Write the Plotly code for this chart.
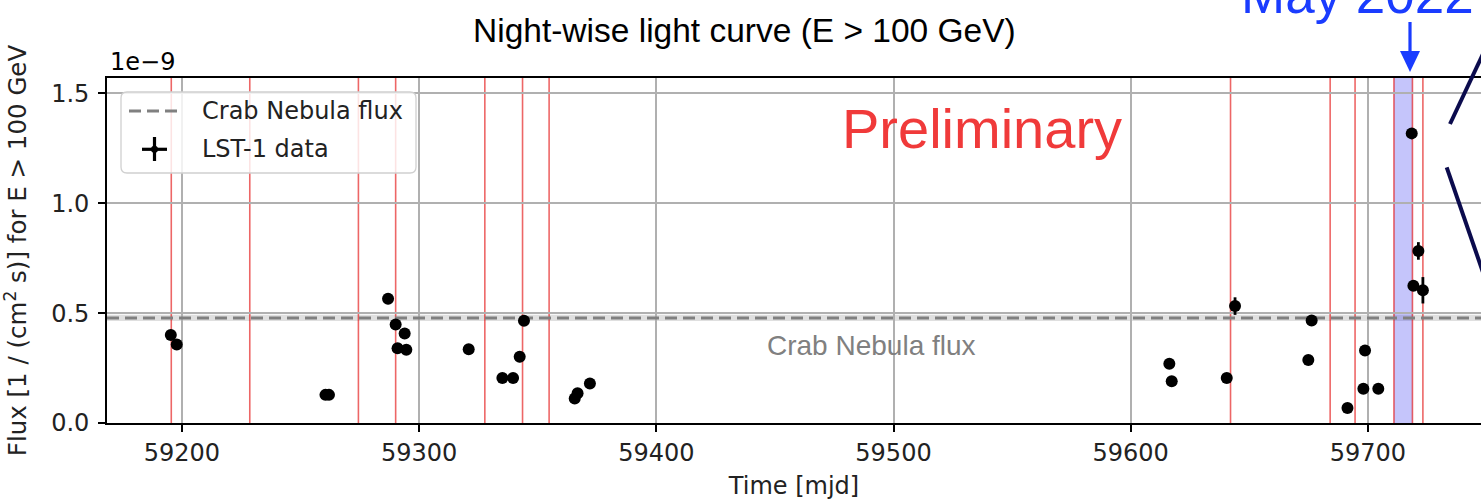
import plotly.graph_objects as go

# Night-wise integral flux above 100 GeV (units of 1e-9 cm^-2 s^-1)
mjd = [59195.3, 59197.8, 59260.5, 59262.0, 59286.9, 59290.1, 59290.9, 59293.9,
       59294.6, 59320.9, 59335.1, 59339.6, 59342.4, 59344.2, 59365.6, 59366.8,
       59372.0, 59616.3, 59617.3, 59640.5, 59644.0, 59674.9, 59676.3, 59691.4,
       59698.1, 59698.8, 59704.4, 59718.5, 59719.2, 59721.3, 59723.2]
flux = [0.400, 0.357, 0.128, 0.128, 0.565, 0.448, 0.340, 0.407,
        0.333, 0.336, 0.205, 0.205, 0.302, 0.465, 0.112, 0.135,
        0.180, 0.270, 0.190, 0.205, 0.532, 0.287, 0.466, 0.068,
        0.156, 0.330, 0.156, 1.318, 0.625, 0.783, 0.604]
flux_err = [0.012, 0.012, 0.010, 0.010, 0.024, 0.015, 0.022, 0.012,
            0.018, 0.020, 0.010, 0.010, 0.025, 0.012, 0.012, 0.018,
            0.014, 0.010, 0.010, 0.012, 0.040, 0.022, 0.015, 0.008,
            0.008, 0.020, 0.008, 0.018, 0.020, 0.040, 0.060]

# Reference Crab Nebula flux and its uncertainty band
crab_flux = 0.478
crab_band = (0.464, 0.493)

# Marked nights (vertical red lines) and the highlighted May 2022 interval
marked_nights = [59195.5, 59228.6, 59274.4, 59290.1, 59327.7, 59343.6, 59354.8,
                 59642.1, 59684.1, 59694.6, 59711.0, 59718.8, 59723.2]
may2022 = (59711.0, 59718.8)

x_ticks = [59200, 59300, 59400, 59500, 59600, 59700]
y_ticks = [0.0, 0.5, 1.0, 1.5]
y_ticktext = ["0.0", "0.5", "1.0", "1.5"]
x_range = [59168.4, 59747.7]
y_range = [0.0, 1.570]

W, H = 1481, 500
ML, MR, MT, MB = 107, 0, 78, 77
PW, PH = W - ML - MR, H - MT - MB


def fx(px):
    return (px - ML) / PW


def fy(py):
    return (H - MB - py) / PH


DV = "DejaVu Sans"
LS = "Liberation Sans, Arial, sans-serif"

fig = go.Figure()

# Crab reference line
fig.add_trace(go.Scatter(
    x=x_range, y=[crab_flux, crab_flux], mode="lines",
    line=dict(color="#808080", width=3, dash="12px,6px"),
    showlegend=False, hoverinfo="skip"))

# LST-1 data points
fig.add_trace(go.Scatter(
    x=mjd, y=flux, mode="markers",
    marker=dict(color="black", size=12),
    error_y=dict(type="data", array=flux_err, color="black", thickness=2.8, width=0),
    showlegend=False))

shapes = []
# Crab uncertainty band
shapes.append(dict(type="rect", xref="paper", yref="y", x0=0, x1=1,
                   y0=crab_band[0], y1=crab_band[1],
                   fillcolor="rgba(128,128,128,0.25)", line=dict(width=0),
                   layer="between"))
# May 2022 band
shapes.append(dict(type="rect", xref="x", yref="paper", x0=may2022[0], x1=may2022[1],
                   y0=0, y1=1, fillcolor="rgba(40,40,240,0.27)", line=dict(width=0),
                   layer="between"))
for m in marked_nights:
    shapes.append(dict(type="line", xref="x", yref="paper", x0=m, x1=m, y0=0, y1=1,
                       line=dict(color="rgba(225,0,0,0.6)", width=1.6),
                       layer="between"))

# Legend box
x0, x1, y0, y1, r = 121, 416, 92, 173, 6
path = (f"M {fx(x0 + r)} {fy(y0)} L {fx(x1 - r)} {fy(y0)} "
        f"Q {fx(x1)} {fy(y0)} {fx(x1)} {fy(y0 + r)} L {fx(x1)} {fy(y1 - r)} "
        f"Q {fx(x1)} {fy(y1)} {fx(x1 - r)} {fy(y1)} L {fx(x0 + r)} {fy(y1)} "
        f"Q {fx(x0)} {fy(y1)} {fx(x0)} {fy(y1 - r)} L {fx(x0)} {fy(y0 + r)} "
        f"Q {fx(x0)} {fy(y0)} {fx(x0 + r)} {fy(y0)} Z")
shapes.append(dict(type="path", xref="paper", yref="paper", path=path,
                   fillcolor="rgba(255,255,255,0.82)",
                   line=dict(color="#d0d0d0", width=1.3), layer="above"))
shapes.append(dict(type="line", xref="paper", yref="paper",
                   x0=fx(129), x1=fx(180), y0=fy(111), y1=fy(111),
                   line=dict(color="#808080", width=3, dash="12px,6px"), layer="above"))
shapes.append(dict(type="line", xref="paper", yref="paper",
                   x0=fx(154.5), x1=fx(154.5), y0=fy(137), y1=fy(161),
                   line=dict(color="black", width=3.2), layer="above"))
shapes.append(dict(type="line", xref="paper", yref="paper",
                   x0=fx(142), x1=fx(167), y0=fy(149.3), y1=fy(149.3),
                   line=dict(color="black", width=3.2), layer="above"))
shapes.append(dict(type="circle", xref="paper", yref="paper",
                   x0=fx(151), x1=fx(158), y0=fy(152.8), y1=fy(145.8),
                   fillcolor="black", line=dict(width=0), layer="above"))

# Arrow pointing at the May 2022 interval
shapes.append(dict(type="line", xref="paper", yref="paper",
                   x0=fx(1410), x1=fx(1410), y0=fy(22), y1=fy(54),
                   line=dict(color="#1a3cff", width=3.2), layer="above"))
shapes.append(dict(type="path", xref="paper", yref="paper",
                   path=f"M {fx(1400)} {fy(51)} L {fx(1420)} {fy(51)} L {fx(1410)} {fy(72)} Z",
                   fillcolor="#1a3cff", line=dict(width=0), layer="above"))

# Zoom-out guide lines
shapes.append(dict(type="line", xref="paper", yref="paper",
                   x0=fx(1450), x1=fx(1490), y0=fy(124), y1=fy(39),
                   line=dict(color="#0b0b4d", width=4), layer="above"))
shapes.append(dict(type="line", xref="paper", yref="paper",
                   x0=fx(1446.7), x1=fx(1490), y0=fy(167.3), y1=fy(292.6),
                   line=dict(color="#0b0b4d", width=4), layer="above"))

annotations = [
    dict(text="Night-wise light curve (E > 100 GeV)", x=fx(744), y=fy(31),
         xref="paper", yref="paper", showarrow=False, xanchor="center", yanchor="middle",
         font=dict(family=LS, size=33.5, color="black")),
    dict(text="Preliminary", x=fx(982), y=fy(128), xref="paper", yref="paper",
         showarrow=False, xanchor="center", yanchor="middle",
         font=dict(family=LS, size=56, color="#f03a3a")),
    dict(text="Crab Nebula flux", x=fx(871), y=fy(345), xref="paper", yref="paper",
         showarrow=False, xanchor="center", yanchor="middle",
         font=dict(family=LS, size=28, color="#808080")),
    dict(text="1e\u22129", x=fx(108), y=fy(62), xref="paper", yref="paper",
         showarrow=False, xanchor="left", yanchor="middle",
         font=dict(family=DV, size=24, color="black")),
    dict(text="May 2022", x=fx(1357), y=fy(-6), xref="paper", yref="paper",
         showarrow=False, xanchor="center", yanchor="middle",
         font=dict(family=LS, size=53, color="#1a3cff")),
    dict(text="Crab Nebula flux", x=fx(200), y=fy(111), xref="paper", yref="paper",
         showarrow=False, xanchor="left", yanchor="middle",
         font=dict(family=DV, size=24, color="#222222")),
    dict(text="LST-1 data", x=fx(200), y=fy(149), xref="paper", yref="paper",
         showarrow=False, xanchor="left", yanchor="middle",
         font=dict(family=DV, size=24, color="#222222")),
]

fig.update_layout(
    width=W, height=H,
    margin=dict(l=ML, r=MR, t=MT, b=MB, pad=0),
    plot_bgcolor="white", paper_bgcolor="white",
    shapes=shapes, annotations=annotations, showlegend=False,
)
fig.update_xaxes(
    range=x_range, tickvals=x_ticks, ticktext=[str(t) for t in x_ticks],
    showline=True, linecolor="black", linewidth=1.6, mirror=True,
    ticks="outside", ticklen=7, tickwidth=1.6, tickcolor="black",
    showgrid=True, gridcolor="#b0b0b0", gridwidth=1.6, zeroline=False,
    tickfont=dict(family=DV, size=24, color="#222222"),
    title=dict(text="Time [mjd]", font=dict(family=DV, size=24, color="#222222"), standoff=12),
)
fig.update_yaxes(
    range=y_range, tickvals=y_ticks, ticktext=y_ticktext,
    showline=True, linecolor="black", linewidth=1.6, mirror=False,
    ticks="outside", ticklen=7, tickwidth=1.6, tickcolor="black",
    ticklabelstandoff=4,
    showgrid=True, gridcolor="#b0b0b0", gridwidth=1.6, zeroline=False,
    tickfont=dict(family=DV, size=24, color="#222222"),
    title=dict(text="Flux [1 / (cm<sup>2</sup> s)] for E > 100 GeV",
               font=dict(family=DV, size=24.5, color="#222222"), standoff=19),
)

fig.write_html("out.html")
